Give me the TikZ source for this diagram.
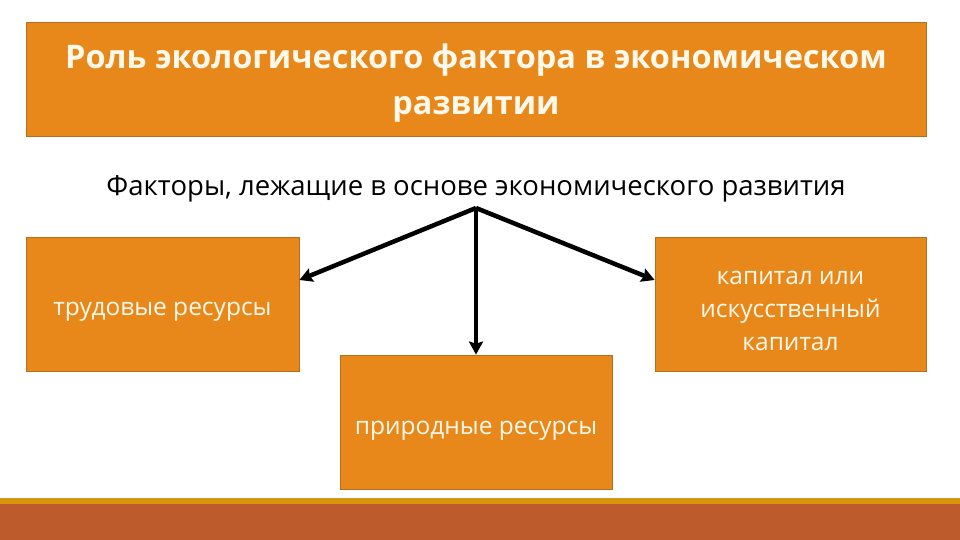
\documentclass[tikz,border=0pt]{standalone}
\usepackage{fontspec}
\setmainfont{Open Sans}
\usetikzlibrary{arrows.meta}
\definecolor{boxfill}{HTML}{E8881A}
\definecolor{boxline}{HTML}{B0701C}
\definecolor{barrust}{HTML}{BE5B2D}
\definecolor{bargold}{HTML}{D8950E}
\definecolor{boxtext}{HTML}{FFF9EC}
\tikzset{
  obox/.style={draw=boxline, line width=0.8pt, fill=boxfill, inner sep=0pt},
  otext/.style={text=boxtext, align=center, inner sep=0pt, font=\fontsize{24.5}{33}\selectfont},
  conn/.style={line width=4.5pt, -{Stealth[length=13pt,width=14pt,inset=2pt]}}
}
\begin{document}
\begin{tikzpicture}[x=1pt,y=-1pt]
\useasboundingbox (0,0) rectangle (960,540);
\fill[white] (0,0) rectangle (960,540);
% bottom bars
\fill[bargold] (0,498) rectangle (960,504);
\fill[barrust] (0,504) rectangle (960,540);
% title
\node[obox, minimum width=900pt, minimum height=114pt] (title) at (476,79) {};
\node[otext, font=\fontsize{32.5}{46}\selectfont\bfseries] (titletext) at (476,83)
  {Роль экологического фактора в экономическом\\развитии};
% subtitle
\node[font=\fontsize{27.5}{30}\selectfont, inner sep=0pt] (sub) at (476,189)
  {Факторы, лежащие в основе экономического развития};
\coordinate (hub) at (476,208);
% boxes
\node[obox, minimum width=273pt, minimum height=134pt] (left) at (162.5,304) {};
\node[otext] (lefttext) at (162.5,312) {трудовые ресурсы};
\node[obox, minimum width=271pt, minimum height=134pt] (right) at (790.5,304) {};
\node[otext] (righttext) at (790.5,311) {капитал или\\искусственный\\капитал};
\node[obox, minimum width=272pt, minimum height=134pt] (bottom) at (476,422) {};
\node[otext] (bottomtext) at (476,431) {природные ресурсы};
% connectors
\draw[conn] (hub) -- (left.east |- 0,280);
\draw[conn] (hub) -- (right.west |- 0,280);
\draw[conn] (hub) -- (bottom.north);
\end{tikzpicture}
\end{document}
